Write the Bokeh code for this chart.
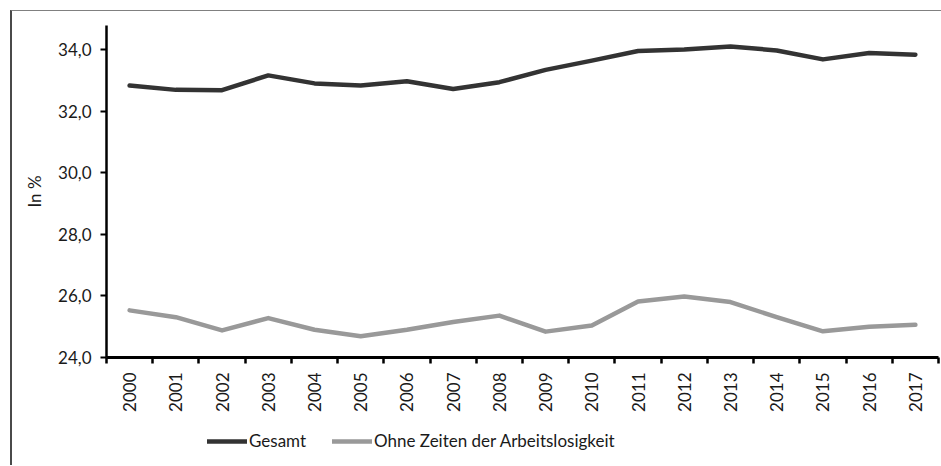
import math
from bokeh.plotting import figure
from bokeh.layouts import column
from bokeh.models import Range1d, FixedTicker, Legend, LegendItem
from bokeh.embed import file_html
from bokeh.resources import INLINE

years = ["2000", "2001", "2002", "2003", "2004", "2005", "2006", "2007", "2008",
         "2009", "2010", "2011", "2012", "2013", "2014", "2015", "2016", "2017"]
gesamt = [32.83, 32.69, 32.68, 33.16, 32.90, 32.83, 32.97, 32.72, 32.94,
          33.34, 33.64, 33.95, 34.00, 34.10, 33.97, 33.68, 33.89, 33.83]
ohne = [25.53, 25.31, 24.88, 25.28, 24.90, 24.69, 24.90, 25.15, 25.36,
        24.84, 25.04, 25.82, 25.98, 25.80, 25.31, 24.85, 25.00, 25.06]
y_ticks = [24, 26, 28, 30, 32, 34]
y_tick_labels = ["24,0", "26,0", "28,0", "30,0", "32,0", "34,0"]
series_names = ["Gesamt", "Ohne Zeiten der Arbeitslosigkeit"]
series_colors = ["#333333", "#999999"]

FONT = "Lato"
TXT = "#1a1a1a"
LW = 4.5

x = [int(y) for y in years]
series_values = [gesamt, ohne]

p = figure(width=929, height=415, output_backend="svg", toolbar_location=None,
           x_range=Range1d(x[0] - 0.5, x[-1] + 0.5), y_range=Range1d(24, 34.78),
           min_border_left=94, min_border_right=3, min_border_top=14, min_border_bottom=69)
p.outline_line_color = None
p.xgrid.visible = False
p.ygrid.visible = False
p.background_fill_color = "white"
p.border_fill_color = "white"

for vals, col in zip(series_values, series_colors):
    p.line(x, vals, line_color=col, line_width=LW, line_cap="round", line_join="round")

# x axis
xa = p.xaxis[0]
xa.ticker = FixedTicker(ticks=x, minor_ticks=[v - 0.5 for v in x] + [x[-1] + 0.5])
xa.major_label_overrides = {v: s for v, s in zip(x, years)}
xa.major_label_orientation = math.pi / 2
xa.major_tick_out = 0
xa.major_tick_in = 0
xa.minor_tick_out = 6
xa.minor_tick_in = 0
xa.minor_tick_line_width = 2.5
xa.minor_tick_line_color = "black"
xa.axis_line_width = 3
xa.axis_line_color = "black"
xa.major_label_standoff = 9
xa.major_label_text_font = FONT
xa.major_label_text_font_size = "17px"
xa.major_label_text_color = TXT

# y axis
ya = p.yaxis[0]
ya.ticker = FixedTicker(ticks=y_ticks, minor_ticks=[])
ya.major_label_overrides = {t: s for t, s in zip(y_ticks, y_tick_labels)}
ya.major_tick_out = 6
ya.major_tick_in = 0
ya.major_tick_line_width = 2
ya.axis_line_width = 2.5
ya.axis_line_color = "black"
ya.major_label_standoff = 9
ya.major_label_text_font = FONT
ya.major_label_text_font_size = "17px"
ya.major_label_text_color = TXT
ya.axis_label = "In %"
ya.axis_label_text_font = FONT
ya.axis_label_text_font_size = "17px"
ya.axis_label_text_font_style = "normal"
ya.axis_label_text_color = TXT
ya.axis_label_standoff = 10

# legend strip (its lines lie outside its own visible range; only the legend shows)
lf = figure(width=929, height=39, output_backend="svg", toolbar_location=None,
            x_range=Range1d(0, 1), y_range=Range1d(0, 1),
            x_axis_location=None, y_axis_location=None,
            min_border_left=0, min_border_right=0, min_border_top=0, min_border_bottom=0)
lf.outline_line_color = None
lf.xgrid.visible = False
lf.ygrid.visible = False
items = []
for name, vals, col in zip(series_names, series_values, series_colors):
    r = lf.line(x, vals, line_color=col, line_width=LW, line_cap="round")
    items.append(LegendItem(label=name, renderers=[r]))
legend = Legend(items=items, orientation="horizontal", location=(101, 14),
                glyph_width=40, glyph_height=20, label_standoff=2, spacing=26,
                padding=0, margin=0, border_line_color=None, background_fill_alpha=0,
                label_text_font=FONT, label_text_font_size="17px", label_text_color=TXT)
lf.add_layout(legend)

layout = column(p, lf, spacing=0)
layout.styles = {"margin-top": "10px", "margin-left": "10px",
                 "border-top": "1px solid #808080", "border-left": "2px solid #4a4a4a"}

open("out.html", "w").write(file_html(layout, INLINE))
